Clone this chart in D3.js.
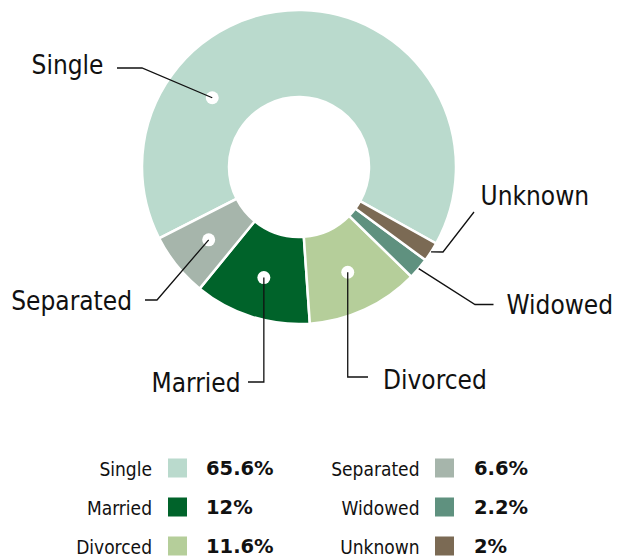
<!DOCTYPE html>
<html>
<head>
<meta charset="utf-8">
<script src="https://cdn.jsdelivr.net/npm/d3@7"></script>
<style>
  html, body { margin: 0; padding: 0; background: #fff; }
  .lbl { font-family: "DejaVu Sans Condensed", "DejaVu Sans", sans-serif; fill: #111; }
  .val { font-family: "DejaVu Sans", sans-serif; font-weight: bold; fill: #111; }
</style>
</head>
<body>
<svg id="chart" width="626" height="557"></svg>
<script>
// data
var categories = ['Single', 'Married', 'Divorced', 'Separated', 'Widowed', 'Unknown']
var values = [65.6, 12, 11.6, 6.6, 2.2, 2]
var colors = ['#badacd', '#00632a', '#b5ce9a', '#a6b5ab', '#5f917f', '#7b6a54']
// clockwise order around the ring, starting from the top-left
var ringOrder = ['Single', 'Unknown', 'Widowed', 'Divorced', 'Married', 'Separated']

var cx = 299, cy = 167,
  rOut = 157, rIn = 70, rDot = 116,
  startDeg = 243

var svg = d3.select('#chart')

var data = categories.map(function(c, i) {
  return {name: c, value: values[i], color: colors[i]}
})

var pie = d3.pie()
  .value(function(d) { return d.value })
  .sort(function(a, b) { return ringOrder.indexOf(a.name) - ringOrder.indexOf(b.name) })
  .startAngle(startDeg * Math.PI / 180)
  .endAngle((startDeg + 360) * Math.PI / 180)

var arcs = pie(data)

var arc = d3.arc().innerRadius(rIn).outerRadius(rOut)
var dotArc = d3.arc().innerRadius(rDot).outerRadius(rDot)
var edgeArc = d3.arc().innerRadius(rOut).outerRadius(rOut)

var g = svg.append('g').attr('transform', 'translate(' + cx + ',' + cy + ')')

g.selectAll('path.slice').data(arcs).enter()
  .append('path')
  .attr('class', 'slice')
  .attr('d', arc)
  .attr('fill', function(d) { return d.data.color })
  .attr('stroke', '#fff')
  .attr('stroke-width', 2.5)
  .attr('stroke-linejoin', 'miter')

// callout layout (page coordinates for elbows and text)
var callouts = {
  Single:    {anchor: 'dot', angle: 308.6, r: 111, elbow: [142, 68], end: [117, 68], tx: 103.5, ty: 73.5, align: 'end'},
  Separated: {anchor: 'dot', elbow: [157, 300], end: [145, 300], tx: 132, ty: 310, align: 'end'},
  Married:   {anchor: 'dot', elbow: [null, 382], end: [248, 382], tx: 240.5, ty: 391.5, align: 'end'},
  Divorced:  {anchor: 'dot', elbow: [null, 377], end: [368, 377], tx: 383, ty: 388.5, align: 'start'},
  Widowed:   {anchor: 'edge', elbow: [475, 304.5], end: [493.5, 304.5], tx: 506.5, ty: 313.5, align: 'start'},
  Unknown:   {anchor: 'edge', elbow: [443, 252], end: [474, 212], tx: 480.5, ty: 205, align: 'start'}
}

function anchorPoint(d) {
  var c = callouts[d.data.name], p
  if (c.angle != null) {
    var a = c.angle * Math.PI / 180
    p = [c.r * Math.sin(a), -c.r * Math.cos(a)]
  } else if (c.anchor === 'dot') {
    p = dotArc.centroid(d)
  } else {
    p = edgeArc.centroid(d)
  }
  return [p[0] + cx, p[1] + cy]
}

var cg = svg.append('g')

arcs.forEach(function(d) {
  var c = callouts[d.data.name]
  var p0 = anchorPoint(d)
  var elbow = [c.elbow[0] == null ? p0[0] : c.elbow[0], c.elbow[1]]

  if (c.anchor === 'dot') {
    cg.append('circle')
      .attr('cx', p0[0]).attr('cy', p0[1]).attr('r', 6.5)
      .attr('fill', '#fff')
  }

  cg.append('path')
    .attr('d', d3.line()([p0, elbow, c.end]))
    .attr('fill', 'none')
    .attr('stroke', '#111')
    .attr('stroke-width', 1.3)

  cg.append('text')
    .attr('class', 'lbl')
    .attr('x', c.tx).attr('y', c.ty)
    .attr('text-anchor', c.align)
    .attr('font-size', 26)
    .text(d.data.name)
})

// legend: two columns of three rows
var legCols = [
  {labelX: 152, swatchX: 168, valueX: 206},
  {labelX: 419.5, swatchX: 435, valueX: 474}
]
var rowY = d3.scalePoint().domain([0, 1, 2]).range([468, 546])
var sw = 19

var leg = svg.append('g')
data.forEach(function(d, i) {
  var col = legCols[Math.floor(i / 3)], y = rowY(i % 3)
  leg.append('text')
    .attr('class', 'lbl')
    .attr('x', col.labelX).attr('y', y + 7.5)
    .attr('text-anchor', 'end')
    .attr('font-size', 19)
    .text(d.name)
  leg.append('rect')
    .attr('x', col.swatchX).attr('y', y - sw / 2)
    .attr('width', sw).attr('height', sw)
    .attr('fill', d.color)
  leg.append('text')
    .attr('class', 'val')
    .attr('x', col.valueX).attr('y', y + 7)
    .attr('font-size', 19.5)
    .text(d.value + '%')
})
</script>
</body>
</html>
